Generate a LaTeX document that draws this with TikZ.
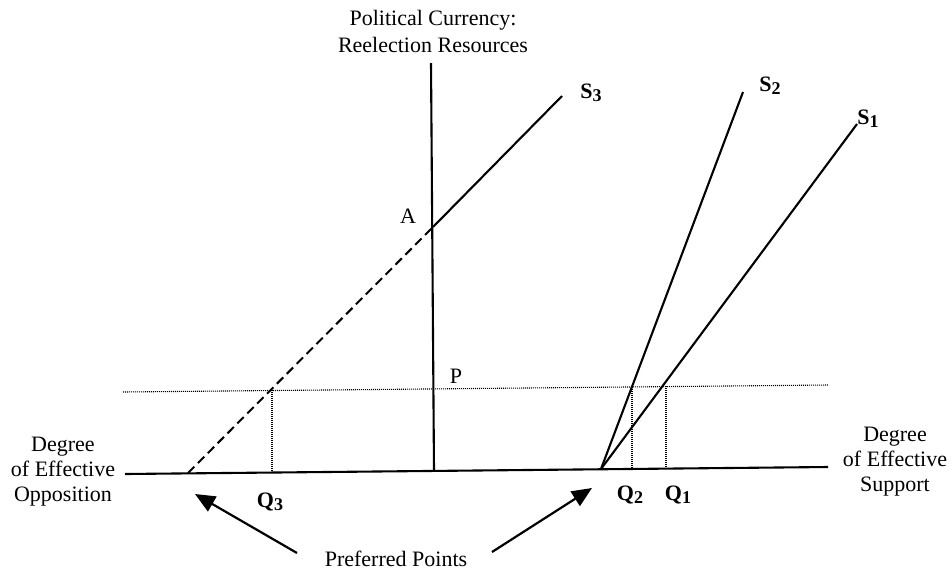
\documentclass[tikz,border=0pt]{standalone}
\usepackage{fontspec}
\setmainfont{Liberation Serif}
\usetikzlibrary{arrows.meta}
\newcommand{\lowsub}[1]{\raisebox{-3pt}{\fontsize{18}{18}\selectfont\bfseries #1}}
\begin{document}
\begin{tikzpicture}[x=1pt,y=-1pt,
  lbl/.style={font=\fontsize{22}{25}\selectfont, inner sep=0pt},
  blk/.style={lbl, align=center},
  solidln/.style={line width=2.1pt},
  axisln/.style={line width=2.1pt},
  dotln/.style={line width=1.1pt, dash pattern=on 1pt off 1pt},
  dashln/.style={line width=2pt, dash pattern=on 9pt off 5pt},
  ptr/.style={line width=2.2pt, -{Triangle[length=20pt,width=17pt]}}]
\useasboundingbox (0,0) rectangle (952,571);
% coordinates
\coordinate (axL) at (125,474);
\coordinate (axR) at (828,467);
\coordinate (vB) at (434,471);
\coordinate (vT) at (431,63);
\coordinate (dotL) at (123,392);
\coordinate (dotR) at (828,385);
\coordinate (b3) at (188,473);
\coordinate (A) at (433,227);
\coordinate (s3T) at (562,96);
\coordinate (b12) at (601,469);
\coordinate (s2T) at (743,92);
\coordinate (s1T) at (857,124);
\coordinate (q3t) at (272,390);
\coordinate (q3b) at (272,472);
\coordinate (q2t) at (632,387);
\coordinate (q2b) at (632,469);
\coordinate (q1t) at (666,386);
\coordinate (q1b) at (666,468);
\coordinate (pa1) at (297,553);
\coordinate (pt1) at (195,494);
\coordinate (pa2) at (492,552);
\coordinate (pt2) at (592,488);
% lines
\draw[axisln] (axL) -- (axR);
\draw[axisln] (vB) -- (vT);
\draw[dotln] (dotL) -- (dotR);
\draw[dotln] (q3t) -- (q3b);
\draw[dotln] (q2t) -- (q2b);
\draw[dotln] (q1t) -- (q1b);
\draw[dashln] (b3) -- (A);
\draw[solidln] (A) -- (s3T);
\draw[solidln] (b12) -- (s2T);
\draw[solidln] (b12) -- (s1T);
\draw[ptr] (pa1) -- (pt1);
\draw[ptr] (pa2) -- (pt2);
% labels
\node[blk, font=\fontsize{22}{27}\selectfont] (title) at (433,31) {Political Currency:\\Reelection Resources};
\node[blk] (opp) at (63,472) {Degree\\of Effective\\Opposition};
\node[blk] (sup) at (895,462) {Degree\\of Effective\\Support};
\node[lbl] (pref) at (396,559) {Preferred Points};
\node[lbl] (lA) at (408,216) {A};
\node[lbl] (lP) at (456,376) {P};
\node[lbl] (lS3) at (591,93) {\textbf{S}\lowsub{3}};
\node[lbl] (lS2) at (770,86) {\textbf{S}\lowsub{2}};
\node[lbl] (lS1) at (868,119) {\textbf{S}\lowsub{1}};
\node[lbl] (lQ3) at (270,502) {\textbf{Q}\lowsub{3}};
\node[lbl] (lQ2) at (630,495) {\textbf{Q}\lowsub{2}};
\node[lbl] (lQ1) at (678,495) {\textbf{Q}\lowsub{1}};
\end{tikzpicture}
\end{document}
